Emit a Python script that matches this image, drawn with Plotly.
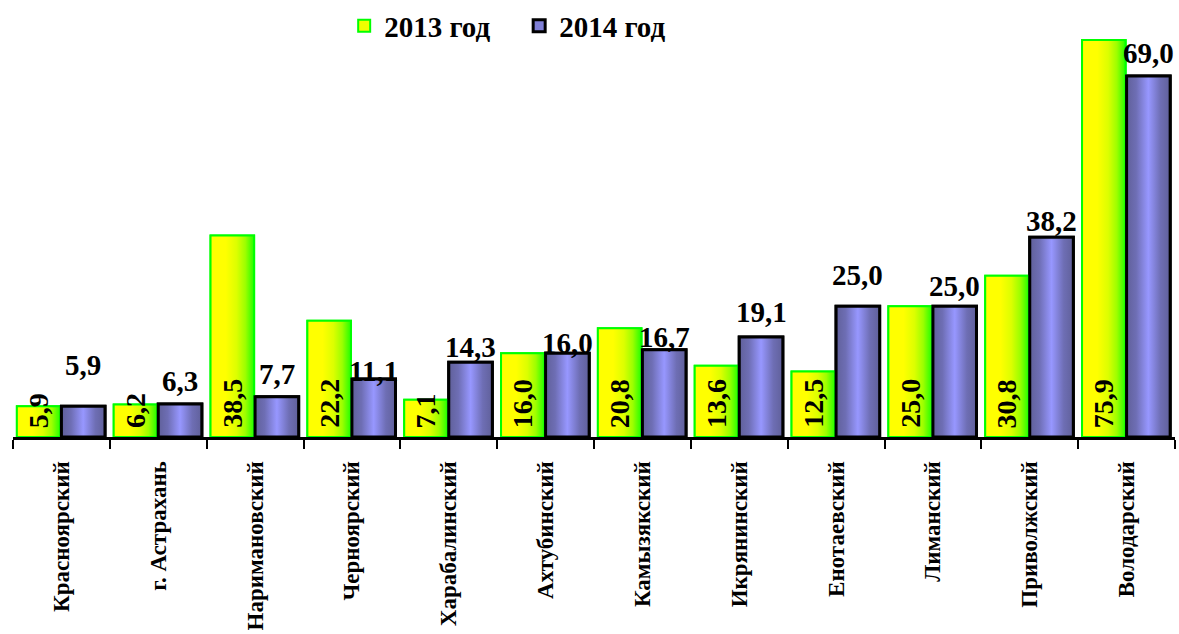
import plotly.graph_objects as go

categories = ["Красноярский", "г. Астрахань", "Наримановский", "Черноярский",
              "Харабалинский", "Ахтубинский", "Камызякский", "Икрянинский",
              "Енотаевский", "Лиманский", "Приволжский", "Володарский"]
v2013 = [5.9, 6.2, 38.5, 22.2, 7.1, 16.0, 20.8, 13.6, 12.5, 25.0, 30.8, 75.9]
v2014 = [5.9, 6.3, 7.7, 11.1, 14.3, 16.0, 16.7, 19.1, 25.0, 25.0, 38.2, 69.0]
series_names = ["2013 год", "2014 год"]

# style
FONT = "Liberation Serif"
W = 0.45
OFF13 = -0.46
OFF14 = 0.0
shift14 = [23, 5, 5, -10, -3, -8, -5, 7, 13, 2, -2, 5]
cs2013 = [[0, "#ffff00"], [0.35, "#ffff00"], [0.6, "#dcff00"], [0.8, "#9cff00"], [1, "#22ff00"]]
cs2014 = [[0, "#60609a"], [0.22, "#6e6eb4"], [0.5, "#9797ff"], [0.78, "#6e6eb4"], [1, "#60609a"]]

def fmt(v):
    return f"{v:.1f}".replace(".", ",")

idx = list(range(len(categories)))
fig = go.Figure()
fig.add_trace(go.Bar(x=idx, y=v2013, width=W, offset=OFF13, name=series_names[0],
                     marker=dict(color="#eeff00", line=dict(color="#00ff00", width=2)),
                     hoverinfo="skip"))
fig.add_trace(go.Bar(x=idx, y=v2014, width=W, offset=OFF14, name=series_names[1],
                     marker=dict(color="#7f7fd6", line=dict(color="black", width=3)),
                     hoverinfo="skip"))

# gradient fills drawn over the bars, built from the same values
for vals, off, cs, lc, lw in [(v2013, OFF13, cs2013, "#00ff00", 2), (v2014, OFF14, cs2014, "black", 3)]:
    for i, v in enumerate(vals):
        x0 = i + off
        x1 = x0 + W
        fig.add_trace(go.Scatter(x=[x0, x0, x1, x1, x0], y=[0, v, v, 0, 0], mode="lines",
                                 fill="toself", fillgradient=dict(type="horizontal", colorscale=cs),
                                 line=dict(color=lc, width=lw), showlegend=False, hoverinfo="skip"))

ann = []
for i, v in enumerate(v2013):
    ann.append(dict(x=i + OFF13 + W / 2, y=0, xref="x", yref="y", text=fmt(v), showarrow=False,
                    textangle=-90, xanchor="center", yanchor="bottom", yshift=7,
                    font=dict(family=FONT, size=28, color="black", weight="bold")))
for i, v in enumerate(v2014):
    ann.append(dict(x=i + OFF14 + W / 2, y=v, xref="x", yref="y", text=fmt(v), showarrow=False,
                    xanchor="center", yanchor="bottom", yshift=shift14[i],
                    font=dict(family=FONT, size=29, color="black", weight="bold")))

fig.update_layout(
    width=1179, height=634,
    margin=dict(l=13, r=4, t=30, b=197, autoexpand=False),
    paper_bgcolor="white", plot_bgcolor="white",
    barmode="overlay",
    showlegend=True,
    legend=dict(orientation="h", x=0.285, xanchor="left", y=1.01, yanchor="middle",
                font=dict(family=FONT, size=29, color="black", weight="bold"),
                bgcolor="rgba(0,0,0,0)", itemwidth=30,
                entrywidth=130, entrywidthmode="pixels"),
    annotations=ann,
    xaxis=dict(range=[-0.5, len(categories) - 0.5], tickmode="array", tickvals=idx,
               ticktext=categories, tickangle=-90, ticks="", showgrid=False, zeroline=False,
               showline=True, linecolor="black", linewidth=3, ticklabelstandoff=12,
               automargin=False,
               tickfont=dict(family=FONT, size=23, color="black", weight="bold"),
               minor=dict(tickmode="array", tickvals=[i - 0.5 for i in range(len(categories) + 1)],
                          ticks="outside", ticklen=9, tickwidth=2, tickcolor="black", showgrid=False)),
    yaxis=dict(range=[0, 77.8], visible=False, automargin=False),
)
fig.write_html("out.html", config={"displayModeBar": False},
               post_script="document.body.style.margin='0';document.body.style.overflow='hidden';")
